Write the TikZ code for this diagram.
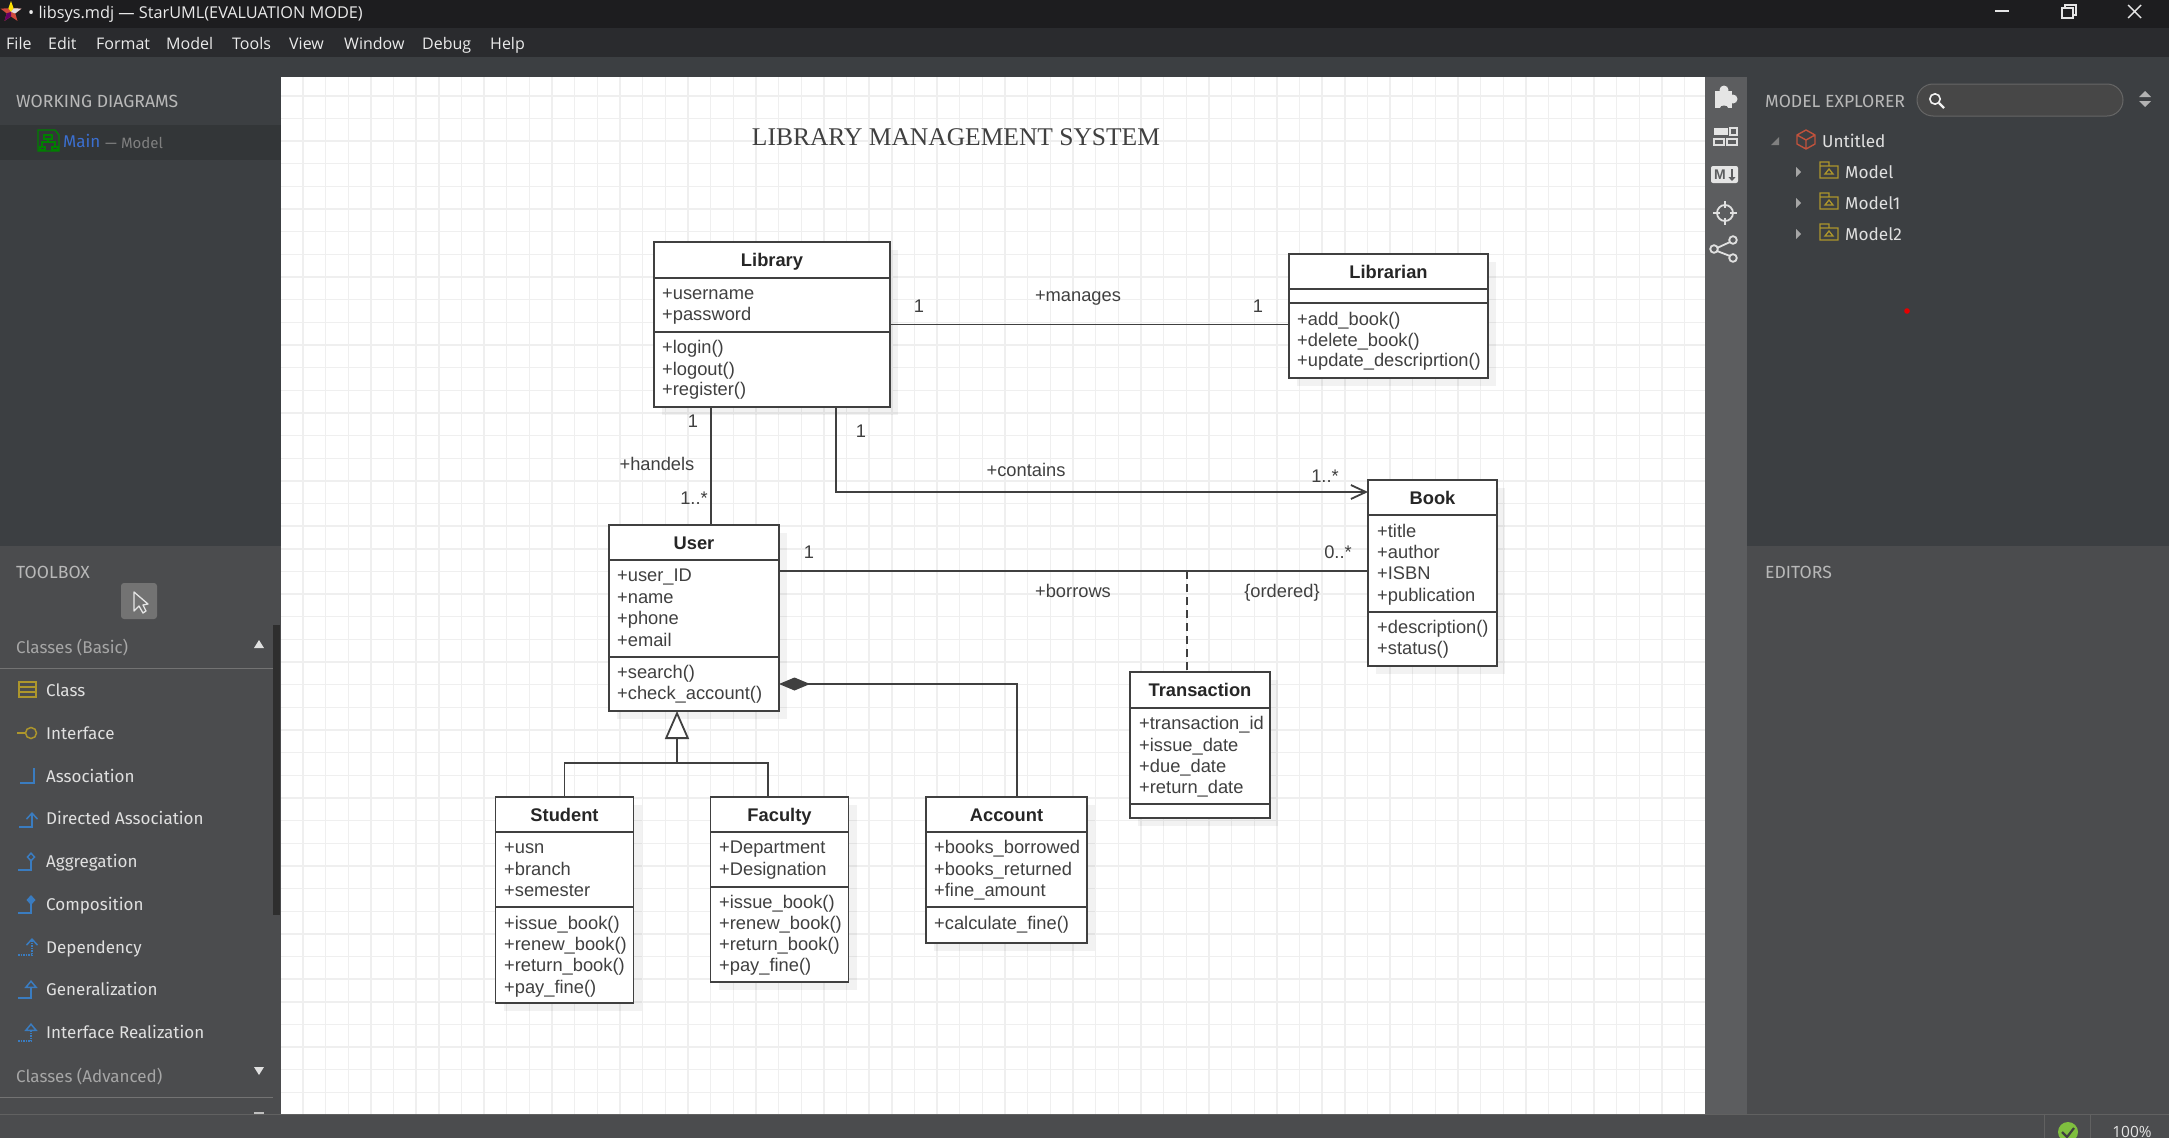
\documentclass[tikz,border=0pt]{standalone}
\usepackage{fontspec}
\usetikzlibrary{arrows.meta,calc,fit,shadows,shapes.geometric}

\newfontfamily\umlfont{Liberation Sans}
\newfontfamily\headfont{Liberation Serif}
\newfontfamily\panelfont{Fira Sans}
\newfontfamily\winfont{Open Sans}

\definecolor{titlebar}{HTML}{1D1D1F}
\definecolor{menubar}{HTML}{2A2B2E}
\definecolor{darkpanel}{HTML}{3C3F42}
\definecolor{lightpanel}{HTML}{4B4C4E}
\definecolor{sidebar}{HTML}{5C5D5F}
\definecolor{selrow}{HTML}{333638}
\definecolor{umlline}{HTML}{404040}
\definecolor{umltext}{HTML}{404040}
\definecolor{gridcol}{HTML}{EFEFEF}
\definecolor{toolblue}{HTML}{3A7CC0}
\definecolor{toolgold}{HTML}{AD962C}
\definecolor{mainblue}{HTML}{3B6FD0}
\definecolor{cubered}{HTML}{C0523C}
\definecolor{iconstar}{HTML}{D04A3C}
\definecolor{okgreen}{HTML}{7FBF3F}

\tikzset{
  x=1pt, y=-1pt,
  classbox/.style={draw=umlline, line width=1.9pt, fill=white, inner sep=0pt, outer sep=0pt,
    drop shadow={shadow xshift=8pt, shadow yshift=-8pt, fill=black, opacity=.05}},
  classname/.style={font=\umlfont\bfseries\fontsize{18.3}{20}\selectfont, text=black!85, anchor=base, inner sep=0pt, yshift=-6.5pt},
  member/.style={font=\umlfont\fontsize{18.3}{20}\selectfont, text=umltext, anchor=base west, inner sep=0pt, yshift=-6.5pt},
  edgelabel/.style={font=\umlfont\fontsize{18.3}{20}\selectfont, text=umltext, anchor=base, inner sep=0pt, yshift=-6.5pt},
  assoc/.style={draw=umlline, line width=1.8pt},
  menuitem/.style={font=\winfont\fontsize{16}{18}\selectfont, text=black!8, anchor=base west, inner sep=0pt, yshift=-6pt},
  panelhead/.style={font=\panelfont\fontsize{17.6}{19}\selectfont, text=black!28, anchor=base west, inner sep=0pt, yshift=-6pt},
  groupitem/.style={font=\panelfont\fontsize{17}{19}\selectfont, text=black!35, anchor=base west, inner sep=0pt, yshift=-6pt},
  toolitem/.style={font=\panelfont\fontsize{17}{19}\selectfont, text=black!12, anchor=base west, inner sep=0pt, yshift=-6pt},
  toolicon/.style={draw=toolblue, line width=1.5pt},
  goldicon/.style={draw=toolgold, line width=1.5pt},
  sideicon/.style={draw=black!12, line width=1.8pt},
  treeitem/.style={font=\panelfont\fontsize{17.2}{20}\selectfont, text=black!12, anchor=base west, inner sep=0pt, yshift=-6pt},
}

% one class: name, left, top, right, bottom, title, the two divider rows
\newcommand{\classrect}[8]{
  \coordinate (#1-nw) at (#2,#3);
  \coordinate (#1-se) at (#4,#5);
  \node[classbox, fit=(#1-nw)(#1-se)] (#1) {};
  \draw[umlline, line width=1.8pt] (#2,#7) -- (#4,#7);
  \draw[umlline, line width=1.8pt] (#2,#8) -- (#4,#8);
  \node[classname] (#1-name) at ($(#1-nw)!.5!(#4,#7)$) {#6};
}

\begin{document}
\begin{tikzpicture}
  \useasboundingbox (0,0) rectangle (2169,1138);
  \clip (0,0) rectangle (2169,1138);

  % window frame and panels
  \fill[lightpanel] (0,0) rectangle (2169,1138);
  \fill[titlebar] (0,0) rectangle (2169,28);
  \fill[menubar] (0,28) rectangle (2169,57);
  \fill[darkpanel] (0,57) rectangle (281,546);
  \fill[selrow] (0,125) rectangle (281,160);
  \fill[darkpanel] (1747,57) rectangle (2169,546);
  \fill[sidebar] (1705,77) rectangle (1747,1114);
  \fill[darkpanel] (281,57) rectangle (1747,77);
  \fill[white] (281,77) rectangle (1705,1114);

  % canvas grid
  \begin{scope}
    \clip (281,77) rectangle (1705,1114);
    \foreach \k in {-15,...,48} {
      \draw[gridcol, line width=1.4pt] ({620+22.65*\k},77) -- ({620+22.65*\k},1114);
    }
    \foreach \k in {0,...,45} {
      \draw[gridcol, line width=1.4pt] (281,{95.8+22.65*\k}) -- (1705,{95.8+22.65*\k});
    }
  \end{scope}

  % title bar
  \foreach \a in {-18,54,126,198} {
    \fill[iconstar] (11,12) -- ($(11,12)+(\a-36:4.5)$) -- ($(11,12)+(\a:11)$) -- ($(11,12)+(\a+36:4.5)$) -- cycle;
  }
  \fill[yellow!85!orange] (11,12) -- ($(11,12)+(-126:4.5)$) -- ($(11,12)+(-90:11)$) -- ($(11,12)+(-54:4.5)$) -- cycle;
  \fill[black!12] (11,12) -- ($(11,12)+(-54:4.5)$) -- ($(11,12)+(-18:11)$) -- ($(11,12)+(18:4.5)$) -- cycle;
  \fill[violet!80!black] (11,12) -- ($(11,12)+(90:4.5)$) -- ($(11,12)+(126:11)$) -- ($(11,12)+(162:4.5)$) -- cycle;
  \node[menuitem, font=\winfont\fontsize{16.3}{18}\selectfont] (filetitle) at (28,12) {• libsys.mdj — StarUML(EVALUATION MODE)};
  \draw[black!10, line width=1.4pt] (1995,11) -- (2009,11);
  \draw[black!10, line width=1.4pt] (2062,8) rectangle (2073,18);
  \draw[black!10, line width=1.2pt] (2065,8) -- (2065,5) -- (2076,5) -- (2076,15) -- (2073,15);
  \draw[black!10, line width=1.4pt] (2128,5) -- (2141,18) (2141,5) -- (2128,18);

  % menu bar
  \foreach \x/\t [count=\i] in {6/File, 48/Edit, 96/Format, 166/Model, 232/Tools, 289/View, 344/Window, 422/Debug, 490/Help} {
    \node[menuitem] (menu-\i) at (\x,43) {\t};
  }

  % working diagrams
  \node[panelhead] (workinghead) at (16,101) {WORKING DIAGRAMS};
  \draw[green!50!black, line width=1.4pt] (38,130) -- (55,130) -- (59,135) -- (59,151) -- (38,151) -- cycle;
  \draw[green!50!black, line width=1.2pt] (44,135) rectangle (52,139) (48,139) -- (48,142) (42,147) -- (42,142) -- (55,142) -- (55,147) (40,147) rectangle (45,150) (52,147) rectangle (58,150);
  \node[toolitem, text=mainblue] (mainitem) at (63,141) {Main};
  \node[toolitem, text=black!50, font=\panelfont\fontsize{15}{17}\selectfont] (mainmodel) at (105,142) {— Model};

  % toolbox
  \node[panelhead] (toolboxhead) at (16,572) {TOOLBOX};
  \fill[black!55, rounded corners=3pt] (121,583) rectangle (157,619);
  \draw[black!10, fill=black!55, line width=1.3pt, line join=round] (134,592) -- (134,611) -- (139,606) -- (143,613) -- (146,611) -- (143,605) -- (148,604) -- cycle;
  \fill[black!82!white] (273,625) rectangle (280,915);
  \node[groupitem] (basichead) at (16,647) {Classes (Basic)};
  \fill[black!12] (254,648) -- (264,648) -- (259,640) -- cycle;
  \draw[black!55, line width=.8pt] (0,668.5) -- (273,668.5);
  \foreach \y/\t [count=\i] in {690/Class, 733/Interface, 776/Association, 818/Directed Association, 861/Aggregation, 904/Composition, 947/Dependency, 989/Generalization, 1032/Interface Realization} {
    \node[toolitem] (tool-\i) at (46,\y) {\t};
  }
  \node[groupitem] (advhead) at (16,1076) {Classes (Advanced)};
  \fill[black!12] (254,1067) -- (264,1067) -- (259,1075) -- cycle;
  \draw[black!55, line width=.8pt] (0,1097) -- (273,1097);
  \fill[black!25] (254,1112) rectangle (264,1114);

  % toolbox icons
  \draw[goldicon] (19,682) rectangle (36,697) (19,687) -- (36,687) (19,692) -- (36,692);
  \draw[goldicon] (17,733) -- (26,733);
  \draw[goldicon] (31,733) circle (5.5);
  \draw[toolicon] (20,783) -- (34,783) -- (34,768);
  \draw[toolicon, -{Straight Barb[length=6pt,width=11pt]}] (19,827) -- (32,827) -- (32,812);
  \draw[toolicon, -{Diamond[open,length=10pt,width=9pt,fill=lightpanel]}] (18,870) -- (31,870) -- (31,852);
  \draw[toolicon, -{Diamond[length=10pt,width=9pt]}] (18,913) -- (31,913) -- (31,895);
  \draw[toolicon, densely dotted, -{Straight Barb[length=6pt,width=11pt]}] (18,955) -- (32,955) -- (32,938);
  \draw[toolicon, -{Triangle[open,length=8pt,width=13pt,fill=lightpanel]}] (18,998) -- (31,998) -- (31,980);
  \draw[toolicon, densely dotted, -{Triangle[open,length=8pt,width=13pt,fill=lightpanel]}] (18,1041) -- (31,1041) -- (31,1023);

  % side icons
  \fill[black!10] (1715,91) rectangle (1732,108);
  \fill[black!10] (1724,90) circle (4.5);
  \fill[black!10] (1733,99) circle (4.5);
  \fill[sidebar] (1724,108) ellipse (4 and 2.5);
  \fill[black!10] (1714,128) rectangle (1728,135);
  \draw[sideicon, line width=1.4pt] (1730,128) rectangle (1737,135) (1714,139) rectangle (1724,145) (1727,139) rectangle (1737,145);
  \fill[black!10, rounded corners=2pt] (1711,166) rectangle (1738,183);
  \node[inner sep=0pt, text=sidebar, font=\umlfont\bfseries\fontsize{14}{14}\selectfont] (mdletter) at (1720,175) {M};
  \draw[sidebar, line width=2.2pt, -{Triangle[length=4pt,width=7pt]}] (1732,169) -- (1732,181);
  \draw[sideicon] (1725,213) circle (8);
  \draw[sideicon] (1725,201) -- (1725,208) (1725,218) -- (1725,225) (1713,213) -- (1720,213) (1730,213) -- (1737,213);
  \draw[sideicon] (1733,240) circle (3.8) (1714,249) circle (3.8) (1733,258) circle (3.8) (1730,242) -- (1717,248) (1717,251) -- (1730,256);

  % model explorer
  \node[panelhead] (explorerhead) at (1765,101) {MODEL EXPLORER};
  \draw[black!60, fill=black!72, line width=1pt, rounded corners=16pt] (1917,84) rectangle (2123,116);
  \draw[black!5, line width=1.6pt] (1935,99) circle (5.2);
  \draw[black!5, line width=2.4pt] (1939,103) -- (1944,108);
  \fill[black!30] (2139,97) -- (2151,97) -- (2145,91) -- cycle;
  \fill[black!30] (2139,101) -- (2151,101) -- (2145,107) -- cycle;
  \fill[black!50] (1771,145) -- (1779,145) -- (1779,137) -- cycle;
  \draw[cubered, line width=1.4pt, line join=round] (1806,130) -- (1815,135) -- (1815,144) -- (1806,149) -- (1797,144) -- (1797,135) -- cycle (1797,135) -- (1806,140) -- (1815,135) (1806,140) -- (1806,149);
  \node[treeitem] (treeroot) at (1822,141) {Untitled};
  \foreach \y/\t [count=\i] in {172/Model, 203/Model1, 234/Model2} {
    \fill[black!35] (1796,\y-5) -- (1801,\y) -- (1796,\y+5) -- cycle;
    \draw[toolgold, line width=1.3pt] (1820,\y-6) rectangle (1838,\y+6) (1820,\y-6) -- (1820,\y-10) -- (1829,\y-10) -- (1829,\y-6) (1825,\y+2) -- (1829,\y-3) -- (1833,\y+2) -- cycle;
    \node[treeitem] (treemodel-\i) at (1845,\y) {\t};
  }
  \fill[red!90!black] (1907,311) circle (2.8);

  % editors and status bar
  \node[panelhead] (editorshead) at (1765,572) {EDITORS};
  \draw[black!62, line width=1pt] (0,1114) -- (2169,1114);
  \draw[black!62, line width=1pt] (2044,1114) -- (2044,1138) (2090,1114) -- (2090,1138);
  \fill[okgreen] (2068,1132) circle (10);
  \draw[black!75, line width=2.2pt] (2062,1132) -- (2067,1137) -- (2074,1128);
  \node[inner sep=0pt, text=black!10, font=\winfont\fontsize{15.5}{17}\selectfont] (zoomlevel) at (2132,1132) {100\%};

  % diagram title
  \node[inner sep=0pt, text=umltext, font=\headfont\fontsize{25.5}{28}\selectfont] (diagramtitle) at (956,137) {LIBRARY MANAGEMENT SYSTEM};

  % classes
  \classrect{library}{654}{242}{890}{407}{Library}{278}{332}
  \foreach \y/\t [count=\i] in {293/+username, 314/+password, 347/+login(), 369/+logout(), 389/+register()} {
    \node[member] (library-\i) at (662,\y) {\t};
  }
  \classrect{librarian}{1289}{254}{1488}{378}{Librarian}{289}{303}
  \foreach \y/\t [count=\i] in {319/+add\_book(), 340/+delete\_book(), 360/+update\_descriprtion()} {
    \node[member] (librarian-\i) at (1297,\y) {\t};
  }
  \classrect{book}{1368}{480}{1497}{666}{Book}{515}{612}
  \foreach \y/\t [count=\i] in {531/+title, 552/+author, 573/+ISBN, 595/+publication, 627/+description(), 648/+status()} {
    \node[member] (book-\i) at (1377,\y) {\t};
  }
  \classrect{user}{609}{525}{779}{711}{User}{560}{657}
  \foreach \y/\t [count=\i] in {575/+user\_ID, 597/+name, 618/+phone, 640/+email, 672/+search(), 693/+check\_account()} {
    \node[member] (user-\i) at (617,\y) {\t};
  }
  \classrect{transaction}{1130}{672}{1270}{818}{Transaction}{708}{804}
  \foreach \y/\t [count=\i] in {723/+transaction\_id, 745/+issue\_date, 766/+due\_date, 787/+return\_date} {
    \node[member] (transaction-\i) at (1139,\y) {\t};
  }
  \classrect{student}{495.5}{797}{633.5}{1003}{Student}{832}{907}
  \foreach \y/\t [count=\i] in {847/+usn, 869/+branch, 890/+semester, 923/+issue\_book(), 944/+renew\_book(), 965/+return\_book(), 987/+pay\_fine()} {
    \node[member] (student-\i) at (504,\y) {\t};
  }
  \classrect{faculty}{710.5}{797}{848.5}{982}{Faculty}{832}{887}
  \foreach \y/\t [count=\i] in {847/+Department, 869/+Designation, 902/+issue\_book(), 923/+renew\_book(), 944/+return\_book(), 965/+pay\_fine()} {
    \node[member] (faculty-\i) at (719,\y) {\t};
  }
  \classrect{account}{926}{797}{1087}{943}{Account}{832}{907}
  \foreach \y/\t [count=\i] in {847/+books\_borrowed, 869/+books\_returned, 890/+fine\_amount, 923/+calculate\_fine()} {
    \node[member] (account-\i) at (934,\y) {\t};
  }

  % connectors
  \coordinate (compEnd) at (779,684);
  \coordinate (genJoint) at (677,763);
  \coordinate (borrowsMid) at (1187,571);
  \draw[assoc] (library.east) -- (library.east -| librarian.west);
  \draw[assoc] ([xshift=17pt]user.north) -- ([xshift=17pt]user.north |- library.south);
  \draw[assoc, -{Straight Barb[length=15pt,width=14pt]}] ([xshift=64pt]library.south) |- ([yshift=81pt]book.west);
  \draw[assoc] ([yshift=2pt]book.west) -- ([yshift=2pt]book.west -| user.east);
  \draw[assoc, dash pattern=on 8pt off 5pt] (borrowsMid) -- ([xshift=-13pt]transaction.north);
  \draw[assoc, {Diamond[length=31pt,width=13pt]}-] (compEnd) -| ([xshift=10.5pt]account.north);
  \draw[assoc] (student.north) |- (genJoint);
  \draw[assoc] ([xshift=-11.5pt]faculty.north) |- (genJoint);
  \draw[assoc, -{Triangle[open,length=28pt,width=24pt,fill=white]}] (genJoint) -- ([xshift=-17pt]user.south);

  % connector labels
  \node[edgelabel] (managesFrom) at (919,306) {1};
  \node[edgelabel] (managesName) at (1078,295) {+manages};
  \node[edgelabel] (managesTo) at (1258,306) {1};
  \node[edgelabel] (handelsFrom) at (693,421) {1};
  \node[edgelabel] (handelsName) at (657,464) {+handels};
  \node[edgelabel] (handelsTo) at (694,498) {1..*};
  \node[edgelabel] (containsFrom) at (861,431) {1};
  \node[edgelabel] (containsName) at (1026,470) {+contains};
  \node[edgelabel] (containsTo) at (1325,476) {1..*};
  \node[edgelabel] (borrowsFrom) at (809,552) {1};
  \node[edgelabel] (borrowsName) at (1073,591) {+borrows};
  \node[edgelabel] (borrowsOrder) at (1282,591) {\{ordered\}};
  \node[edgelabel] (borrowsTo) at (1338,552) {0..*};
\end{tikzpicture}
\end{document}
